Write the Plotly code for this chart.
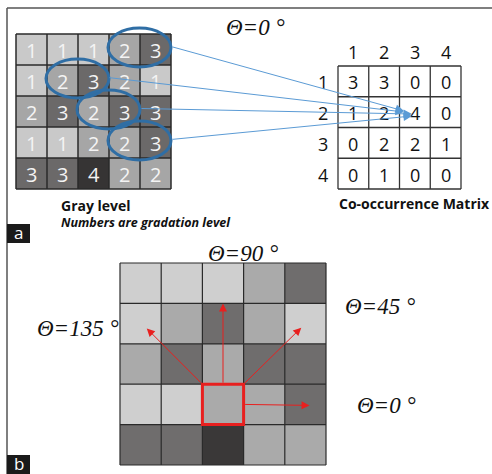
import plotly.graph_objects as go

# ---- data ----
GRAY_LEVELS = [
    [1, 1, 1, 2, 3],
    [1, 2, 3, 2, 1],
    [2, 3, 2, 3, 3],
    [1, 1, 2, 2, 3],
    [3, 3, 4, 2, 2],
]
COOC = [
    [3, 3, 0, 0],
    [1, 2, 4, 0],
    [0, 2, 2, 1],
    [0, 1, 0, 0],
]
LEVEL_LABELS = ["1", "2", "3", "4"]
# pairs highlighted (row, col) of the left cell of a horizontal pair (theta=0)
PAIRS = [(0, 3), (1, 1), (2, 2), (3, 3)]
ANGLE_LABELS = ["0", "45", "90", "135"]

W, H = 492, 474
fig = go.Figure()

GRAYS_A = ["#c9c9c9", "#a6a6a6", "#6b6969", "#363434"]
GRAYS_B = ["#cfcfcf", "#aaaaaa", "#6f6d6d", "#3a3838"]

def disc_scale(cols):
    n = len(cols)
    sc = []
    for i, c in enumerate(cols):
        sc.append([i / n, c])
        sc.append([(i + 1) / n, c])
    return sc

# panel a gray grid
AX0, AY0, AC = 16, 34, 31
fig.add_trace(go.Heatmap(z=GRAY_LEVELS, x0=AX0 + AC / 2, dx=AC, y0=AY0 + AC / 2, dy=AC,
                         zmin=0.5, zmax=4.5, colorscale=disc_scale(GRAYS_A),
                         showscale=False, hoverinfo="skip", xgap=0, ygap=0))
# panel b gray grid
BX0, BY0, BCW, BCH = 120, 263, 41.2, 40.4
fig.add_trace(go.Heatmap(z=GRAY_LEVELS, x0=BX0 + BCW / 2, dx=BCW, y0=BY0 + BCH / 2, dy=BCH,
                         zmin=0.5, zmax=4.5, colorscale=disc_scale(GRAYS_B),
                         showscale=False, hoverinfo="skip"))

shapes = []
ann = []
n = len(GRAY_LEVELS)
# grid lines panel a
for i in range(n + 1):
    shapes.append(dict(type="line", x0=AX0 + i * AC, x1=AX0 + i * AC, y0=AY0, y1=AY0 + n * AC,
                       line=dict(color="#2a2a2a", width=1.5)))
    shapes.append(dict(type="line", x0=AX0, x1=AX0 + n * AC, y0=AY0 + i * AC, y1=AY0 + i * AC,
                       line=dict(color="#2a2a2a", width=1.5)))
# grid lines panel b
for i in range(n + 1):
    shapes.append(dict(type="line", x0=BX0 + i * BCW, x1=BX0 + i * BCW, y0=BY0, y1=BY0 + n * BCH,
                       line=dict(color="#2a2a2a", width=1.2)))
    shapes.append(dict(type="line", x0=BX0, x1=BX0 + n * BCW, y0=BY0 + i * BCH, y1=BY0 + i * BCH,
                       line=dict(color="#2a2a2a", width=1.2)))
# numbers panel a
for r in range(n):
    for c in range(n):
        ann.append(dict(x=AX0 + (c + 0.5) * AC, y=AY0 + (r + 0.5) * AC + 1, text=str(GRAY_LEVELS[r][c]),
                        showarrow=False, font=dict(family="Open Sans", size=20, color="#f4f4f4")))

# co-occurrence matrix
MX0, MY0, MC = 338, 66, 30.75
m = len(COOC)
for i in range(m + 1):
    shapes.append(dict(type="line", x0=MX0 + i * MC, x1=MX0 + i * MC, y0=MY0, y1=MY0 + m * MC,
                       line=dict(color="#333333", width=1.3)))
    shapes.append(dict(type="line", x0=MX0, x1=MX0 + m * MC, y0=MY0 + i * MC, y1=MY0 + i * MC,
                       line=dict(color="#333333", width=1.3)))
for r in range(m):
    for c in range(m):
        ann.append(dict(x=MX0 + (c + 0.5) * MC, y=MY0 + (r + 0.5) * MC + 1, text=str(COOC[r][c]),
                        showarrow=False, font=dict(family="Open Sans", size=18, color="#111111")))
for i, lab in enumerate(LEVEL_LABELS):
    ann.append(dict(x=MX0 + (i + 0.5) * MC, y=MY0 - 14, text=lab, showarrow=False,
                    font=dict(family="Open Sans", size=18, color="#111111")))
    ann.append(dict(x=MX0 - 15, y=MY0 + (i + 0.5) * MC + 1, text=lab, showarrow=False,
                    font=dict(family="Open Sans", size=18, color="#111111")))

# ellipses + blue arrows
ends = [(404, 111), (404, 112), (412, 114), (412, 116)]
for k, (r, c) in enumerate(PAIRS):
    x0 = AX0 + c * AC - 1
    x1 = AX0 + (c + 2) * AC
    y0 = AY0 + r * AC - 6
    y1 = AY0 + (r + 1) * AC + 2
    shapes.append(dict(type="circle", x0=x0, x1=x1, y0=y0, y1=y1,
                       line=dict(color="#2f6ea5", width=3)))
    sx = x1
    sy = (y0 + y1) / 2 - 1
    if k == 1:
        sx = x1 - 1
    ex, ey = ends[k]
    ann.append(dict(x=ex, y=ey, ax=sx, ay=sy, xref="x", yref="y", axref="x", ayref="y",
                    showarrow=True, arrowhead=2, arrowsize=1.7, arrowwidth=1,
                    arrowcolor="#5b9bd5", text=""))

# panel b red box + arrows
rr, rc = 3, 2
bx0 = BX0 + rc * BCW
bx1 = bx0 + BCW
by0 = BY0 + rr * BCH
by1 = by0 + BCH
shapes.append(dict(type="rect", x0=bx0, x1=bx1, y0=by0, y1=by1,
                   line=dict(color="#e8201f", width=3)))
red_arrows = [
    ((bx1, (by0 + by1) / 2), (bx1 + 1.6 * BCW, (by0 + by1) / 2 + 1)),   # 0
    ((bx1, by0), (bx1 + 1.4 * BCW, by0 - 1.4 * BCH)),                     # 45
    (((bx0 + bx1) / 2, by0), ((bx0 + bx1) / 2, by0 - 2.0 * BCH)),        # 90
    ((bx0, by0), (bx0 - 1.35 * BCW, by0 - 1.38 * BCH)),                   # 135
]
for (s, e) in red_arrows:
    ann.append(dict(x=e[0], y=e[1], ax=s[0], ay=s[1], xref="x", yref="y", axref="x", ayref="y",
                    showarrow=True, arrowhead=2, arrowsize=1.6, arrowwidth=1,
                    arrowcolor="#e8201f", text=""))

theta_font = dict(family="Liberation Serif", size=23, color="#111111")
def theta(a):
    return "<i>\u0398=" + a + " \u00b0</i>"
ann.append(dict(x=255, y=27, text=theta(ANGLE_LABELS[0]), showarrow=False, font=theta_font))
ann.append(dict(x=243, y=253, text=theta(ANGLE_LABELS[2]), showarrow=False, font=theta_font))
ann.append(dict(x=78, y=328, text=theta(ANGLE_LABELS[3]), showarrow=False, font=theta_font))
ann.append(dict(x=380, y=306, text=theta(ANGLE_LABELS[1]), showarrow=False, font=theta_font))
ann.append(dict(x=386, y=405, text=theta(ANGLE_LABELS[0]), showarrow=False, font=theta_font))

# texts
ann.append(dict(x=96, y=205, text="<b>Gray level</b>", showarrow=False,
                font=dict(family="Open Sans", size=14, color="#111111")))
ann.append(dict(x=146, y=222, text="<b><i>Numbers are gradation level</i></b>", showarrow=False,
                font=dict(family="Open Sans", size=12.5, color="#111111")))
ann.append(dict(x=414, y=203, text="<b>Co-occurrence Matrix</b>", showarrow=False,
                font=dict(family="Open Sans", size=14, color="#111111")))

# frame
shapes.append(dict(type="line", x0=7, x1=W, y0=8, y1=8, line=dict(color="#555555", width=1.5)))
shapes.append(dict(type="line", x0=7, x1=7, y0=8, y1=H, line=dict(color="#555555", width=1.5)))
# panel labels
for lab, y0, y1 in [("a", 224, 243), ("b", 455, 474)]:
    shapes.append(dict(type="rect", x0=7, x1=30, y0=y0, y1=y1, fillcolor="#1a1a1a", line=dict(width=0)))
    ann.append(dict(x=18.5, y=(y0 + y1) / 2 - 1, text=lab, showarrow=False, yanchor="middle",
                    font=dict(family="Open Sans", size=17, color="#ffffff")))

fig.update_layout(
    width=W, height=H, margin=dict(l=0, r=0, t=0, b=0),
    paper_bgcolor="white", plot_bgcolor="white",
    xaxis=dict(range=[0, W], visible=False, fixedrange=True),
    yaxis=dict(range=[H, 0], visible=False, fixedrange=True),
    shapes=shapes, annotations=ann, showlegend=False,
)

fig.write_html("out.html", config={"displayModeBar": False},
               post_script="document.body.style.margin='0';document.body.style.overflow='hidden';")
